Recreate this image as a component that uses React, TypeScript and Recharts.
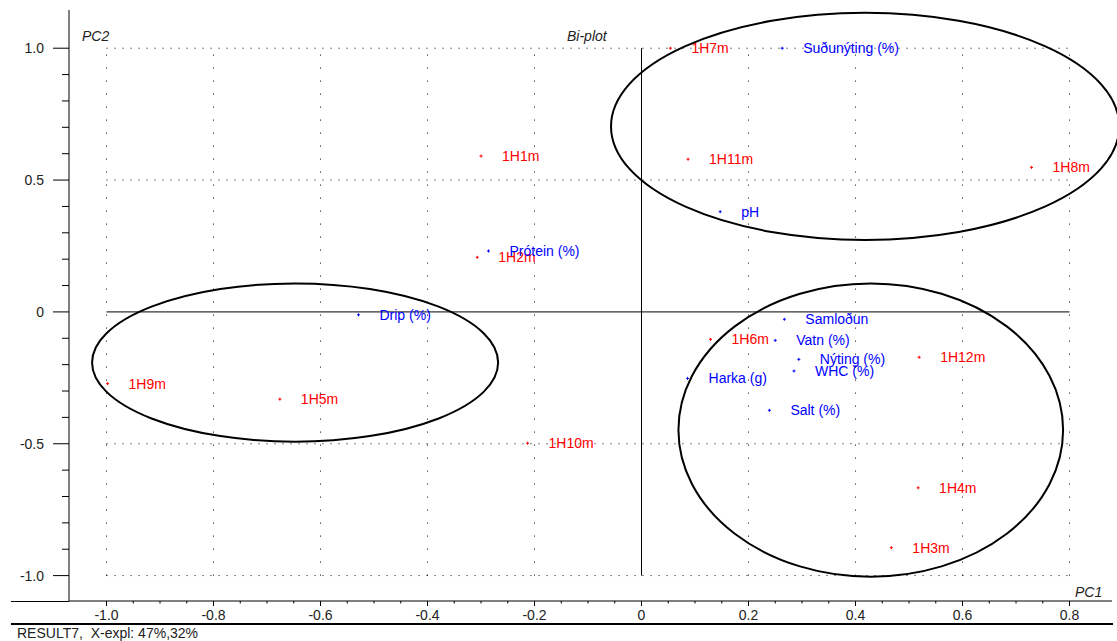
import React from 'react';
import { ScatterChart, Scatter, XAxis, YAxis, ReferenceLine, ReferenceArea } from 'recharts';

// ---- data ----
const sampleNames = ['1H1m', '1H2m', '1H3m', '1H4m', '1H5m', '1H6m', '1H7m', '1H8m', '1H9m', '1H10m', '1H11m', '1H12m'];
const sampleX = [-0.300, -0.307, 0.467, 0.517, -0.676, 0.129, 0.054, 0.729, -0.998, -0.213, 0.087, 0.519];
const sampleY = [0.591, 0.207, -0.894, -0.667, -0.331, -0.104, 1.0, 0.548, -0.272, -0.498, 0.579, -0.172];

const varNames = ['Suðunýting (%)', 'pH', 'Prótein (%)', 'Drip (%)', 'Samloðun', 'Vatn (%)', 'Nýting (%)', 'WHC (%)', 'Harka (g)', 'Salt (%)'];
const varX = [0.263, 0.147, -0.286, -0.529, 0.267, 0.250, 0.294, 0.285, 0.086, 0.239];
const varY = [1.0, 0.380, 0.231, -0.011, -0.028, -0.108, -0.180, -0.224, -0.252, -0.373];

// ellipse bounding boxes (data units)
const ellipseX1 = [-0.057, -1.027, 0.069];
const ellipseX2 = [0.893, -0.268, 0.788];
const ellipseY1 = [1.134, 0.108, 0.108];
const ellipseY2 = [0.273, -0.492, -1.004];

const xTicks = [-1, -0.95, -0.9, -0.85, -0.8, -0.75, -0.7, -0.65, -0.6, -0.55, -0.5, -0.45, -0.4, -0.35, -0.3, -0.25, -0.2, -0.15, -0.1, -0.05, 0, 0.05, 0.1, 0.15, 0.2, 0.25, 0.3, 0.35, 0.4, 0.45, 0.5, 0.55, 0.6, 0.65, 0.7, 0.75, 0.8];
const xMajorTicks = [-1, -0.8, -0.6, -0.4, -0.2, 0, 0.2, 0.4, 0.6, 0.8];
const xTickLabels = ['-1.0', '-0.8', '-0.6', '-0.4', '-0.2', '0', '0.2', '0.4', '0.6', '0.8'];
const yTicks = [-1, -0.9, -0.8, -0.7, -0.6, -0.5, -0.4, -0.3, -0.2, -0.1, 0, 0.1, 0.2, 0.3, 0.4, 0.5, 0.6, 0.7, 0.8, 0.9, 1];
const yMajorTicks = [-1, -0.5, 0, 0.5, 1];
const yTickLabels = ['-1.0', '-0.5', '0', '0.5', '1.0'];

const xGridValues = [-1, -0.8, -0.6, -0.4, -0.2, 0.2, 0.4, 0.6, 0.8];
const yGridValues = [1, 0.5, -0.5, -1];
const GRID_X_MIN = -1;
const GRID_X_MAX = 0.8;
const GRID_Y_MIN = -1;
const GRID_Y_MAX = 1;

const X_DOMAIN: [number, number] = [-1.0701, 0.8794];
const Y_DOMAIN: [number, number] = [-1.0963, 1.1449];

const samples = sampleNames.map((n, i) => ({ name: n, x: sampleX[i], y: sampleY[i] }));
const variables = varNames.map((n, i) => ({ name: n, x: varX[i], y: varY[i] }));
const ellipses = ellipseX1.map((v, i) => ({ x1: v, x2: ellipseX2[i], y1: ellipseY1[i], y2: ellipseY2[i] }));

const FONT = '"Liberation Sans", Arial, Helvetica, sans-serif';

const findIdx = (arr: number[], v: number) => arr.findIndex((a) => Math.abs(a - v) < 1e-6);

const XTick = (props: any) => {
  const { x, y, payload } = props;
  const idx = findIdx(xMajorTicks, payload.value);
  const major = idx >= 0;
  return (
    <g>
      <line x1={x} x2={x} y1={y} y2={y + (major ? 5 : 2.5)} stroke="#000" strokeWidth={1} />
      {major && (
        <text x={x} y={y + 19} textAnchor="middle" fontSize={14} fill="#222" fontFamily={FONT}>
          {xTickLabels[idx]}
        </text>
      )}
    </g>
  );
};

const YTick = (props: any) => {
  const { x, y, payload } = props;
  const idx = findIdx(yMajorTicks, payload.value);
  const major = idx >= 0;
  return (
    <g>
      <line x1={x - (major ? 16 : 7)} x2={x} y1={y} y2={y} stroke="#000" strokeWidth={1} />
      {major && (
        <text x={x - 25} y={y + 5} textAnchor="end" fontSize={14} fill="#222" fontFamily={FONT}>
          {yTickLabels[idx]}
        </text>
      )}
    </g>
  );
};

const makePointShape = (color: string) => (props: any) => {
  const { cx, cy, payload } = props;
  if (cx == null || cy == null) return <g />;
  return (
    <g>
      <line x1={cx - 1.5} x2={cx + 1.5} y1={cy} y2={cy} stroke={color} strokeWidth={1} />
      <line x1={cx} x2={cx} y1={cy - 1.5} y2={cy + 1.5} stroke={color} strokeWidth={1} />
      <text x={cx + 21} y={cy + 5} fontSize={14} fill={color} fontFamily={FONT}>
        {payload.name}
      </text>
    </g>
  );
};

const EllipseShape = (props: any) => {
  const { x, y, width, height } = props;
  const w = Math.abs(width);
  const h = Math.abs(height);
  const left = width < 0 ? x + width : x;
  const top = height < 0 ? y + height : y;
  return (
    <ellipse cx={left + w / 2} cy={top + h / 2} rx={w / 2} ry={h / 2} fill="none" stroke="#000" strokeWidth={2} />
  );
};

const textStyle: React.CSSProperties = {
  position: 'absolute',
  fontFamily: FONT,
  fontSize: 14,
  lineHeight: '16px',
  color: '#222',
  whiteSpace: 'nowrap',
};

export default function App() {
  return (
    <div style={{ position: 'absolute', left: 0, top: 0, width: 1117, height: 641, overflow: 'hidden', background: '#fff' }}>
      <ScatterChart width={1117} height={641} margin={{ top: 10, right: 5, bottom: 0, left: 0 }}>
        <XAxis
          type="number"
          dataKey="x"
          domain={X_DOMAIN}
          allowDataOverflow
          ticks={xTicks}
          interval={0}
          tickSize={0}
          tickMargin={0}
          tickLine={false}
          tick={<XTick />}
          height={40}
          axisLine={{ stroke: '#000', strokeWidth: 1 }}
        />
        <YAxis
          type="number"
          dataKey="y"
          domain={Y_DOMAIN}
          allowDataOverflow
          ticks={yTicks}
          interval={0}
          tickSize={0}
          tickMargin={0}
          tickLine={false}
          tick={<YTick />}
          width={69}
          axisLine={{ stroke: '#000', strokeWidth: 1 }}
        />
        {xGridValues.map((v) => (
          <ReferenceLine
            key={'gx' + v}
            segment={[{ x: v, y: GRID_Y_MIN }, { x: v, y: GRID_Y_MAX }]}
            stroke="#000"
            strokeWidth={1}
            strokeDasharray="1 12"
          />
        ))}
        {yGridValues.map((v) => (
          <ReferenceLine
            key={'gy' + v}
            segment={[{ x: GRID_X_MIN, y: v }, { x: GRID_X_MAX, y: v }]}
            stroke="#000"
            strokeWidth={1}
            strokeDasharray="1 7"
          />
        ))}
        <ReferenceLine segment={[{ x: 0, y: GRID_Y_MIN }, { x: 0, y: GRID_Y_MAX }]} stroke="#000" strokeWidth={1} />
        <ReferenceLine segment={[{ x: GRID_X_MIN, y: 0 }, { x: GRID_X_MAX, y: 0 }]} stroke="#000" strokeWidth={1} />
        {ellipses.map((e, i) => (
          <ReferenceArea
            key={'el' + i}
            x1={e.x1}
            x2={e.x2}
            y1={e.y1}
            y2={e.y2}
            ifOverflow="visible"
            shape={<EllipseShape />}
          />
        ))}
        <Scatter data={samples} isAnimationActive={false} shape={makePointShape('#ff0000')} />
        <Scatter data={variables} isAnimationActive={false} shape={makePointShape('#0000ff')} />
      </ScatterChart>
      {/* x-axis line extension to the left of the y axis */}
      <div style={{ position: 'absolute', left: 11, top: 601, width: 58, height: 1, background: '#000' }} />
      {/* bottom separator line */}
      <div style={{ position: 'absolute', left: 11, top: 623, width: 1102, height: 2, background: '#000' }} />
      <div style={{ ...textStyle, left: 82, top: 28, fontStyle: 'italic' }}>PC2</div>
      <div style={{ ...textStyle, left: 567, top: 28, fontStyle: 'italic' }}>Bi-plot</div>
      <div style={{ ...textStyle, left: 1075, top: 584, fontStyle: 'italic' }}>PC1</div>
      <div style={{ ...textStyle, left: 17, top: 625 }}>RESULT7,&nbsp; X-expl: 47%,32%</div>
    </div>
  );
}
